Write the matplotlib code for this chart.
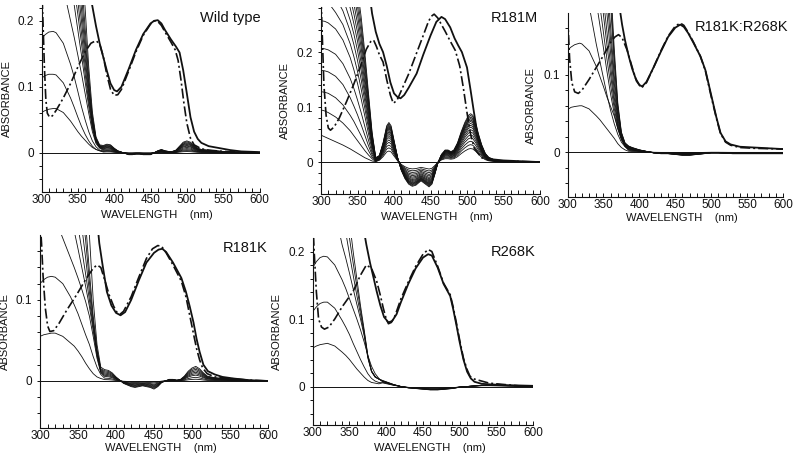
import numpy as np
import matplotlib.pyplot as plt

plt.rcParams['font.family'] = ['Liberation Sans', 'DejaVu Sans']

W, H = 798, 463
ink = "#111111"

# ---------------- Wild type ----------------
wt_dd_x = [300, 302, 304, 306, 308, 311, 315, 320, 330, 340, 350, 360, 368, 375, 380, 385, 390, 395, 400, 405, 410, 420, 430, 440, 450, 455, 460, 465, 470, 478, 484, 488, 492, 496, 500, 505, 510, 520, 530, 550, 575, 600]
wt_dd_y = [0.26, 0.2, 0.13, 0.08, 0.06, 0.054, 0.056, 0.064, 0.083, 0.105, 0.13, 0.153, 0.166, 0.17, 0.165, 0.146, 0.118, 0.096, 0.087, 0.088, 0.096, 0.124, 0.153, 0.178, 0.195, 0.2, 0.199, 0.193, 0.183, 0.168, 0.156, 0.14, 0.11, 0.075, 0.045, 0.022, 0.012, 0.006, 0.004, 0.002, 0.001, 0.0]
wt_sol_x = [365, 370, 375, 380, 385, 390, 395, 400, 404, 410, 420, 430, 440, 450, 455, 460, 465, 470, 478, 485, 490, 495, 500, 505, 510, 515, 520, 530, 540, 550, 560, 575, 600]
wt_sol_y = [0.25, 0.222, 0.192, 0.166, 0.145, 0.124, 0.105, 0.095, 0.093, 0.1, 0.127, 0.156, 0.18, 0.196, 0.2, 0.201, 0.196, 0.186, 0.172, 0.161, 0.152, 0.125, 0.09, 0.054, 0.032, 0.021, 0.015, 0.01, 0.008, 0.006, 0.004, 0.002, 0.001]
wt_hump_x = [300, 305, 310, 316, 320, 330, 340, 345, 350, 355, 360, 365, 370, 375, 380]
wt_humps = [
    [0.061, 0.064, 0.066, 0.067, 0.067, 0.061, 0.048, 0.04, 0.032, 0.025, 0.019, 0.013, 0.008, 0.005, 0.003],
    [0.113, 0.117, 0.119, 0.119, 0.118, 0.106, 0.083, 0.069, 0.054, 0.04, 0.028, 0.018, 0.01, 0.005, 0.003],
    [0.173, 0.179, 0.183, 0.184, 0.182, 0.166, 0.134, 0.115, 0.093, 0.07, 0.05, 0.032, 0.018, 0.009, 0.004],
]
wt_hump_amp = [0.1, 0.18, 0.26]
wt_fan_x = [320, 330, 340, 345, 350, 355, 360, 365, 370, 375, 380]
wt_fans = [
    [0.3, 0.25, 0.2, 0.175, 0.148, 0.12, 0.09, 0.06, 0.032, 0.014, 0.007],
    [0.4, 0.33, 0.26, 0.224, 0.186, 0.148, 0.108, 0.07, 0.037, 0.016, 0.008],
    [0.45, 0.37, 0.29, 0.25, 0.21, 0.166, 0.12, 0.077, 0.04, 0.017, 0.008],
    [0.5, 0.41, 0.32, 0.275, 0.23, 0.182, 0.132, 0.084, 0.043, 0.018, 0.009],
    [0.55, 0.45, 0.35, 0.3, 0.252, 0.2, 0.145, 0.091, 0.046, 0.019, 0.009],
    [0.6, 0.49, 0.38, 0.33, 0.275, 0.218, 0.158, 0.098, 0.049, 0.02, 0.01],
    [0.65, 0.53, 0.41, 0.36, 0.3, 0.24, 0.172, 0.106, 0.052, 0.021, 0.01],
    [0.7, 0.57, 0.45, 0.39, 0.33, 0.265, 0.19, 0.115, 0.056, 0.022, 0.011],
    [0.75, 0.62, 0.49, 0.43, 0.36, 0.29, 0.22, 0.13, 0.062, 0.024, 0.012],
]
wt_fan_amp = [0.35, 0.45, 0.55, 0.62, 0.7, 0.77, 0.84, 0.92, 1.0]
wt_vis_x = [385, 390, 395, 400, 405, 410, 415, 420, 425, 430, 435, 440, 445, 450, 455, 460, 465, 470, 475, 480, 485, 490, 495, 500, 505, 510, 515, 520, 530, 540, 550, 570, 600]
wt_vis_y = [0.011, 0.013, 0.012, 0.007, 0.003, 0.001, -0.001, -0.003, -0.003, -0.002, -0.002, -0.003, -0.003, -0.003, 0.0, 0.003, 0.005, 0.003, 0.002, 0.002, 0.004, 0.01, 0.016, 0.018, 0.016, 0.011, 0.007, 0.005, 0.004, 0.003, 0.002, 0.001, 0.0]

# ---------------- R181M ----------------
m_dd_x = [300, 302, 304, 307, 310, 313, 318, 325, 335, 345, 355, 362, 368, 372, 376, 380, 385, 390, 395, 399, 404, 410, 420, 430, 440, 447, 451, 455, 460, 465, 470, 477, 484, 490, 495, 500, 505, 510, 520, 530, 550, 600]
m_dd_y = [0.3, 0.22, 0.14, 0.085, 0.062, 0.058, 0.064, 0.08, 0.11, 0.142, 0.178, 0.205, 0.219, 0.222, 0.21, 0.195, 0.182, 0.15, 0.122, 0.107, 0.112, 0.13, 0.16, 0.195, 0.23, 0.255, 0.265, 0.269, 0.262, 0.25, 0.238, 0.22, 0.203, 0.175, 0.135, 0.09, 0.05, 0.025, 0.008, 0.004, 0.002, 0.0]
m_sol_x = [367, 370, 375, 380, 385, 390, 395, 400, 405, 409, 414, 420, 431, 440, 450, 458, 465, 470, 477, 483, 488, 493, 500, 505, 509, 515, 520, 525, 535, 550, 600]
m_sol_y = [0.3, 0.27, 0.237, 0.215, 0.2, 0.175, 0.145, 0.125, 0.118, 0.116, 0.122, 0.135, 0.161, 0.195, 0.23, 0.255, 0.264, 0.26, 0.245, 0.225, 0.212, 0.2, 0.172, 0.13, 0.095, 0.045, 0.022, 0.01, 0.005, 0.003, 0.0]
m_uv_x = [300, 305, 310, 320, 330, 340, 345, 350, 355, 360, 365, 370, 375]
m_uv = [
    [0.049, 0.046, 0.043, 0.037, 0.031, 0.024, 0.02, 0.016, 0.012, 0.008, 0.005, 0.002, 0.001],
    [0.095, 0.093, 0.09, 0.082, 0.071, 0.057, 0.048, 0.039, 0.03, 0.021, 0.013, 0.006, 0.001],
    [0.128, 0.127, 0.125, 0.117, 0.104, 0.085, 0.074, 0.061, 0.048, 0.034, 0.021, 0.009, 0.002],
    [0.167, 0.166, 0.164, 0.156, 0.141, 0.117, 0.102, 0.086, 0.068, 0.049, 0.03, 0.013, 0.002],
    [0.207, 0.206, 0.204, 0.196, 0.179, 0.152, 0.134, 0.113, 0.09, 0.065, 0.04, 0.017, 0.003],
    [0.257, 0.256, 0.253, 0.242, 0.222, 0.19, 0.168, 0.143, 0.115, 0.084, 0.052, 0.022, 0.003],
    [0.31, 0.3, 0.29, 0.272, 0.25, 0.215, 0.192, 0.165, 0.133, 0.098, 0.062, 0.027, 0.004],
    [0.36, 0.345, 0.33, 0.3, 0.275, 0.238, 0.214, 0.185, 0.15, 0.11, 0.07, 0.03, 0.004],
    [0.41, 0.39, 0.37, 0.335, 0.298, 0.258, 0.233, 0.203, 0.166, 0.122, 0.077, 0.033, 0.005],
    [0.45, 0.43, 0.41, 0.37, 0.325, 0.28, 0.252, 0.22, 0.18, 0.133, 0.084, 0.036, 0.005],
    [0.49, 0.47, 0.45, 0.4, 0.35, 0.3, 0.27, 0.236, 0.194, 0.144, 0.091, 0.039, 0.006],
    [0.53, 0.51, 0.49, 0.43, 0.375, 0.32, 0.288, 0.252, 0.208, 0.155, 0.098, 0.042, 0.006],
    [0.57, 0.55, 0.53, 0.46, 0.4, 0.34, 0.305, 0.268, 0.222, 0.166, 0.105, 0.045, 0.007],
    [0.61, 0.59, 0.56, 0.49, 0.425, 0.36, 0.322, 0.283, 0.236, 0.177, 0.112, 0.048, 0.007],
    [0.65, 0.63, 0.6, 0.52, 0.45, 0.38, 0.34, 0.298, 0.25, 0.188, 0.119, 0.051, 0.008],
    [0.7, 0.67, 0.64, 0.56, 0.48, 0.4, 0.358, 0.314, 0.264, 0.2, 0.126, 0.054, 0.008],
]
m_amp = [0.28, 0.36, 0.43, 0.5, 0.56, 0.62, 0.67, 0.72, 0.76, 0.8, 0.84, 0.87, 0.9, 0.93, 0.965, 1.0]
m_vis_x = [380, 385, 390, 393, 396, 400, 405, 410, 415, 420, 425, 430, 437, 443, 448, 452, 456, 460, 465, 470, 474, 478, 482, 487, 492, 497, 502, 505, 508, 512, 516, 520, 525, 530, 540, 550, 575, 600]
m_vis_y = [0.012, 0.035, 0.066, 0.072, 0.066, 0.04, 0.008, -0.015, -0.03, -0.04, -0.044, -0.042, -0.034, -0.04, -0.045, -0.04, -0.022, -0.002, 0.014, 0.022, 0.022, 0.019, 0.022, 0.035, 0.055, 0.072, 0.085, 0.088, 0.085, 0.07, 0.05, 0.032, 0.016, 0.008, 0.003, 0.0015, 0.0005, 0.0]

# ---------------- R181K:R268K ----------------
kk_dd_x = [300, 301, 303, 306, 310, 315, 320, 330, 341, 350, 360, 366, 371, 376, 383, 390, 396, 403, 410, 420, 430, 440, 450, 457, 462, 468, 475, 485, 492, 501, 507, 513, 520, 527, 540, 560, 580, 600]
kk_dd_y = [0.2, 0.16, 0.12, 0.09, 0.078, 0.076, 0.08, 0.094, 0.111, 0.125, 0.142, 0.149, 0.152, 0.148, 0.132, 0.11, 0.092, 0.083, 0.09, 0.11, 0.131, 0.15, 0.163, 0.167, 0.164, 0.155, 0.143, 0.124, 0.105, 0.068, 0.045, 0.024, 0.013, 0.009, 0.006, 0.005, 0.0045, 0.004]
kk_sol_x = [372, 376, 380, 385, 390, 395, 400, 404, 410, 420, 430, 440, 450, 457, 462, 468, 475, 485, 492, 501, 507, 513, 520, 527, 540, 560, 580, 600]
kk_sol_y = [0.19, 0.165, 0.145, 0.125, 0.108, 0.095, 0.087, 0.085, 0.091, 0.11, 0.13, 0.149, 0.161, 0.165, 0.162, 0.154, 0.142, 0.124, 0.106, 0.07, 0.046, 0.025, 0.014, 0.01, 0.007, 0.006, 0.005, 0.004]
kk_hump_x = [300, 305, 310, 317, 320, 330, 340, 345, 350, 355, 360, 365, 370, 375, 380]
kk_humps = [
    [0.055, 0.058, 0.059, 0.06, 0.06, 0.056, 0.047, 0.042, 0.036, 0.03, 0.024, 0.018, 0.011, 0.006, 0.003],
    [0.132, 0.136, 0.139, 0.141, 0.14, 0.131, 0.111, 0.098, 0.085, 0.071, 0.059, 0.047, 0.031, 0.018, 0.008],
]
kk_hump_amp = [0.15, 0.3]
kk_fan_x = [320, 330, 340, 345, 350, 355, 360, 365, 370, 375, 380]
kk_fans = [
    [0.25, 0.19, 0.14, 0.118, 0.096, 0.074, 0.054, 0.037, 0.023, 0.013, 0.007],
    [0.35, 0.26, 0.195, 0.165, 0.135, 0.104, 0.075, 0.05, 0.03, 0.016, 0.008],
    [0.4, 0.3, 0.225, 0.19, 0.155, 0.12, 0.087, 0.057, 0.033, 0.017, 0.008],
    [0.44, 0.34, 0.25, 0.215, 0.178, 0.138, 0.1, 0.064, 0.036, 0.018, 0.009],
    [0.48, 0.37, 0.28, 0.24, 0.198, 0.155, 0.112, 0.071, 0.039, 0.019, 0.009],
    [0.52, 0.41, 0.31, 0.265, 0.22, 0.178, 0.128, 0.08, 0.043, 0.02, 0.01],
    [0.56, 0.45, 0.34, 0.29, 0.245, 0.2, 0.145, 0.09, 0.047, 0.021, 0.01],
    [0.6, 0.49, 0.37, 0.32, 0.27, 0.22, 0.162, 0.1, 0.051, 0.022, 0.011],
    [0.65, 0.54, 0.41, 0.35, 0.3, 0.245, 0.19, 0.115, 0.057, 0.024, 0.011],
    [0.7, 0.58, 0.45, 0.39, 0.33, 0.27, 0.205, 0.125, 0.06, 0.025, 0.012],
    [0.75, 0.62, 0.48, 0.42, 0.36, 0.29, 0.22, 0.135, 0.064, 0.026, 0.012],
]
kk_fan_amp = [0.4, 0.48, 0.55, 0.62, 0.68, 0.74, 0.8, 0.86, 0.91, 0.96, 1.0]
kk_vis_x = [385, 390, 400, 410, 420, 430, 440, 450, 460, 470, 480, 490, 500, 510, 530, 550, 575, 600]
kk_vis_y = [0.008, 0.006, 0.003, 0.001, -0.001, -0.002, -0.002, -0.003, -0.004, -0.004, -0.003, -0.002, -0.001, -0.001, -0.002, -0.002, -0.002, -0.002]

# ---------------- R181K ----------------
k_dd_x = [300, 302, 304, 307, 310, 313, 318, 325, 335, 348, 360, 370, 375, 380, 386, 391, 397, 401, 405, 410, 420, 430, 440, 448, 455, 460, 466, 475, 486, 492, 497, 502, 506, 510, 514, 520, 530, 550, 575, 600]
k_dd_y = [0.2, 0.17, 0.13, 0.09, 0.068, 0.061, 0.062, 0.071, 0.087, 0.106, 0.125, 0.139, 0.143, 0.14, 0.122, 0.106, 0.092, 0.085, 0.082, 0.086, 0.104, 0.128, 0.151, 0.163, 0.167, 0.166, 0.158, 0.143, 0.123, 0.104, 0.081, 0.058, 0.04, 0.026, 0.016, 0.009, 0.005, 0.003, 0.001, 0.0]
k_sol_x = [375, 378, 382, 388, 394, 400, 406, 412, 420, 430, 440, 450, 456, 461, 466, 475, 486, 492, 497, 502, 506, 510, 515, 521, 530, 540, 555, 575, 600]
k_sol_y = [0.2, 0.17, 0.145, 0.11, 0.093, 0.084, 0.081, 0.085, 0.1, 0.124, 0.146, 0.158, 0.162, 0.163, 0.159, 0.146, 0.127, 0.11, 0.092, 0.072, 0.052, 0.036, 0.02, 0.012, 0.008, 0.005, 0.003, 0.001, 0.0]
k_hump_x = [300, 305, 310, 315, 320, 330, 340, 345, 350, 355, 360, 365, 370, 375, 380]
k_humps = [
    [0.055, 0.057, 0.058, 0.059, 0.059, 0.055, 0.047, 0.043, 0.037, 0.03, 0.022, 0.015, 0.009, 0.005, 0.003],
    [0.12, 0.125, 0.128, 0.129, 0.128, 0.12, 0.104, 0.094, 0.083, 0.07, 0.057, 0.045, 0.03, 0.017, 0.008],
]
k_hump_amp = [0.12, 0.25]
k_fan_x = [320, 330, 340, 345, 350, 355, 360, 365, 370, 375, 380]
k_fans = [
    [0.2, 0.176, 0.152, 0.14, 0.127, 0.113, 0.098, 0.08, 0.055, 0.028, 0.01],
    [0.3, 0.25, 0.205, 0.185, 0.163, 0.14, 0.117, 0.092, 0.062, 0.031, 0.011],
    [0.38, 0.31, 0.25, 0.22, 0.19, 0.162, 0.132, 0.1, 0.066, 0.033, 0.012],
    [0.45, 0.37, 0.29, 0.255, 0.22, 0.19, 0.152, 0.11, 0.07, 0.035, 0.013],
    [0.52, 0.43, 0.34, 0.295, 0.255, 0.215, 0.174, 0.122, 0.075, 0.037, 0.014],
    [0.6, 0.5, 0.39, 0.34, 0.29, 0.24, 0.195, 0.135, 0.08, 0.039, 0.015],
    [0.7, 0.58, 0.45, 0.39, 0.33, 0.27, 0.22, 0.18, 0.1, 0.045, 0.017],
]
k_fan_amp = [0.4, 0.5, 0.6, 0.7, 0.8, 0.9, 1.0]
k_vis_x = [385, 390, 395, 400, 405, 410, 415, 420, 425, 430, 435, 440, 445, 450, 455, 460, 465, 470, 475, 480, 485, 490, 495, 500, 505, 510, 515, 520, 530, 545, 570, 600]
k_vis_y = [0.014, 0.013, 0.01, 0.005, 0.001, -0.003, -0.005, -0.007, -0.008, -0.007, -0.006, -0.007, -0.008, -0.01, -0.007, -0.002, 0.0, 0.002, 0.002, 0.001, 0.002, 0.006, 0.012, 0.016, 0.018, 0.015, 0.01, 0.006, 0.004, 0.003, 0.001, 0.0]

# ---------------- R268K ----------------
r_dd_x = [300, 302, 305, 308, 312, 316, 322, 330, 340, 355, 365, 373, 380, 387, 392, 396, 400, 403, 407, 412, 420, 430, 440, 450, 457, 462, 470, 478, 487, 491, 496, 500, 505, 510, 514, 520, 530, 540, 560, 580, 600]
r_dd_y = [0.25, 0.2, 0.14, 0.1, 0.088, 0.085, 0.088, 0.1, 0.118, 0.141, 0.165, 0.18, 0.175, 0.156, 0.135, 0.116, 0.1, 0.093, 0.095, 0.105, 0.13, 0.155, 0.178, 0.196, 0.203, 0.2, 0.178, 0.153, 0.136, 0.118, 0.091, 0.068, 0.042, 0.025, 0.015, 0.011, 0.008, 0.005, 0.003, 0.001, 0.0]
r_sol_x = [369, 373, 378, 383, 387, 392, 397, 403, 408, 414, 420, 430, 440, 450, 457, 462, 470, 478, 487, 491, 496, 500, 505, 510, 515, 520, 530, 545, 565, 600]
r_sol_y = [0.235, 0.21, 0.183, 0.16, 0.141, 0.12, 0.103, 0.095, 0.097, 0.107, 0.125, 0.152, 0.175, 0.191, 0.196, 0.194, 0.176, 0.152, 0.134, 0.115, 0.088, 0.065, 0.04, 0.022, 0.012, 0.007, 0.004, 0.003, 0.002, 0.001]
r_hump_x = [300, 305, 310, 315, 320, 330, 340, 345, 350, 355, 360, 365, 370, 375, 380, 385, 390]
r_humps = [
    [0.057, 0.06, 0.062, 0.063, 0.064, 0.06, 0.051, 0.046, 0.04, 0.033, 0.026, 0.02, 0.014, 0.009, 0.006, 0.005, 0.004],
    [0.111, 0.118, 0.123, 0.125, 0.125, 0.116, 0.098, 0.088, 0.077, 0.064, 0.052, 0.04, 0.029, 0.019, 0.012, 0.008, 0.006],
    [0.176, 0.185, 0.191, 0.193, 0.192, 0.18, 0.158, 0.145, 0.13, 0.115, 0.1, 0.084, 0.066, 0.046, 0.03, 0.019, 0.012],
]
r_hump_amp = [0.6, 0.7, 0.8]
r_fan_x = [320, 330, 340, 345, 350, 355, 360, 365, 370, 375, 380, 385, 390]
r_fans = [
    [0.3, 0.26, 0.21, 0.19, 0.168, 0.145, 0.122, 0.1, 0.075, 0.042, 0.022, 0.014, 0.011],
    [0.4, 0.33, 0.26, 0.228, 0.196, 0.165, 0.135, 0.107, 0.078, 0.044, 0.022, 0.014, 0.011],
    [0.45, 0.37, 0.29, 0.255, 0.22, 0.183, 0.148, 0.114, 0.081, 0.045, 0.023, 0.014, 0.011],
    [0.5, 0.41, 0.325, 0.285, 0.245, 0.2, 0.16, 0.12, 0.084, 0.046, 0.023, 0.015, 0.011],
]
r_fan_amp = [0.85, 0.9, 0.95, 1.0]
r_vis_x = [395, 400, 410, 420, 430, 440, 450, 460, 470, 480, 490, 500, 510, 520, 530, 540, 560, 580, 600]
r_vis_y = [0.009, 0.007, 0.003, 0.0, -0.002, -0.003, -0.004, -0.005, -0.005, -0.004, -0.003, -0.001, 0.0, 0.001, 0.002, 0.002, 0.0015, 0.001, 0.0]


fig = plt.figure(figsize=(W / 100, H / 100), dpi=100)


# pixel box (left, top, right, bottom) -> axes
def make_axes(box, ylim, yticks, ytlabels, title, title_xy, xlab_top):
    l, t, r, b = box
    ax = fig.add_axes([l / W, 1 - b / H, (r - l) / W, (b - t) / H])
    ax.set_xlim(300, 600)
    ax.set_ylim(*ylim)
    for s in ["top", "right"]:
        ax.spines[s].set_visible(False)
    for s in ["left", "bottom"]:
        ax.spines[s].set_linewidth(0.8)
        ax.spines[s].set_color(ink)
    ax.set_xticks(range(300, 601, 50))
    ax.set_xticks(range(300, 601, 10), minor=True)
    ax.set_yticks(yticks)
    ax.set_yticklabels(ytlabels)
    ax.set_yticks(np.arange(-0.04, ylim[1], 0.02), minor=True)
    ax.tick_params(axis="x", which="both", direction="in", length=3, width=0.7, pad=1.5, labelsize=8.5, colors=ink)
    ax.tick_params(axis="y", which="both", direction="out", length=2.5, width=0.7, pad=3, labelsize=8.5, colors=ink)
    ax.axhline(0, color=ink, lw=0.7)
    ax.set_xlabel("WAVELENGTH    (nm)", fontsize=8, color=ink)
    ax.xaxis.set_label_coords(0.53, -(xlab_top - b) / (b - t))
    ax.set_ylabel("ABSORBANCE", fontsize=8, color=ink)
    ax.yaxis.set_label_coords(title_xy[2], 0.5)
    fig.text(title_xy[0] / W, 1 - title_xy[1] / H, title, ha="right", va="center", fontsize=10.5, color=ink)
    return ax


def draw_set(ax, uv_x, uv_list, amps, vis_x, vis_y):
    for uv, a in zip(uv_list, amps):
        xs = list(uv_x) + list(vis_x)
        ys = list(uv) + [a * v for v in vis_y]
        ax.plot(xs, ys, color=ink, lw=0.6)


def draw_main(ax, dd_x, dd_y, sol_x, sol_y):
    ax.plot(sol_x, sol_y, color=ink, lw=1.3)
    ax.plot(dd_x, dd_y, color=ink, lw=1.2, dashes=[6, 1.8, 1.2, 1.8])


# Wild type
ax = make_axes((41.5, 5, 259.5, 192), (-0.0595, 0.224), [0, 0.1, 0.2], ["0", "0.1", "0.2"],
               "Wild type", (261, 18, -0.135), 210)
draw_set(ax, wt_hump_x, wt_humps, wt_hump_amp, wt_vis_x, wt_vis_y)
draw_set(ax, wt_fan_x, wt_fans, wt_fan_amp, wt_vis_x, wt_vis_y)
draw_main(ax, wt_dd_x, wt_dd_y, wt_sol_x, wt_sol_y)

# R181M
ax = make_axes((321, 7, 540, 194), (-0.058, 0.282), [0, 0.1, 0.2], ["0", "0.1", "0.2"],
               "R181M", (538, 18, -0.14), 212)
draw_set(ax, m_uv_x, m_uv, m_amp, m_vis_x, m_vis_y)
draw_main(ax, m_dd_x, m_dd_y, m_sol_x, m_sol_y)

# R181K:R268K
ax = make_axes((567.5, 13, 783, 197), (-0.058, 0.18), [0, 0.1], ["0", "0.1"],
               "R181K:R268K", (788, 27, -0.146), 213)
draw_set(ax, kk_hump_x, kk_humps, kk_hump_amp, kk_vis_x, kk_vis_y)
draw_set(ax, kk_fan_x, kk_fans, kk_fan_amp, kk_vis_x, kk_vis_y)
draw_main(ax, kk_dd_x, kk_dd_y, kk_sol_x, kk_sol_y)

# R181K
ax = make_axes((40, 235, 268, 428), (-0.058, 0.18), [0, 0.1], ["0", "0.1"],
               "R181K", (268, 248, -0.13), 443)
draw_set(ax, k_hump_x, k_humps, k_hump_amp, k_vis_x, k_vis_y)
draw_set(ax, k_fan_x, k_fans, k_fan_amp, k_vis_x, k_vis_y)
draw_main(ax, k_dd_x, k_dd_y, k_sol_x, k_sol_y)

# R268K
ax = make_axes((312.7, 238, 533.3, 425), (-0.057, 0.22), [0, 0.1, 0.2], ["0", "0.1", "0.2"],
               "R268K", (536, 252, -0.141), 443)
draw_set(ax, r_hump_x, r_humps, r_hump_amp, r_vis_x, r_vis_y)
draw_set(ax, r_fan_x, r_fans, r_fan_amp, r_vis_x, r_vis_y)
draw_main(ax, r_dd_x, r_dd_y, r_sol_x, r_sol_y)

fig.savefig("out.png", dpi=100)
